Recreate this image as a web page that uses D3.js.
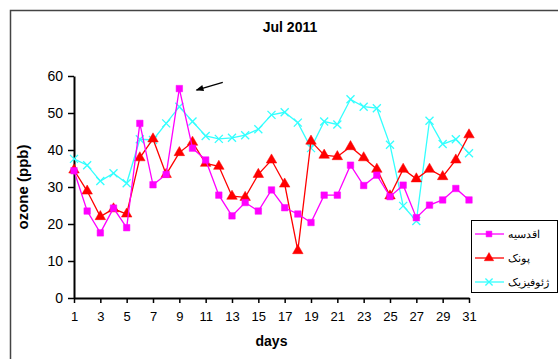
<!DOCTYPE html>
<html>
<head>
<meta charset="utf-8">
<script src="https://cdn.jsdelivr.net/npm/d3@7"></script>
<style>
  html, body { margin: 0; padding: 0; background: #fff; }
  svg { display: block; }
  text { font-family: "Liberation Sans", Arial, sans-serif; }
</style>
</head>
<body>
<svg id="chart" width="558" height="359"></svg>
<script>
// Daily ozone readings (ppb), July 2011, three monitoring stations
const days = d3.range(1, 32);
const dayTicks = [1, 3, 5, 7, 9, 11, 13, 15, 17, 19, 21, 23, 25, 27, 29, 31];
const ozoneTicks = [0, 10, 20, 30, 40, 50, 60];
const stationNames = ["اقدسیه", "پونک", "ژئوفیزیک"];

const aghdasieh = [34.4, 23.5, 17.6, 24.3, 19.0, 47.2, 30.6, 33.4, 56.6, 40.5,
                   37.3, 27.8, 22.2, 25.8, 23.5, 29.2, 24.4, 22.7, 20.4, 27.8,
                   27.8, 35.9, 30.4, 33.2, 27.4, 30.5, 21.7, 25.1, 26.5, 29.6, 26.5];
const punak =     [34.6, 28.9, 22.0, 24.1, 22.7, 37.9, 43.0, 33.4, 39.3, 42.1,
                   36.4, 35.6, 27.5, 27.2, 33.4, 37.3, 30.8, 12.8, 42.4, 38.6,
                   38.2, 40.9, 37.9, 34.8, 27.6, 34.8, 32.2, 34.8, 32.8, 37.3, 44.1];
const geophysics =[37.6, 35.9, 31.6, 33.7, 31.0, 42.9, 42.7, 47.2, 51.7, 47.7,
                   43.8, 43.0, 43.3, 44.0, 45.6, 49.5, 50.2, 47.4, 40.5, 47.7,
                   46.9, 53.7, 51.7, 51.3, 41.4, 24.9, 20.8, 47.9, 41.6, 42.9, 39.1];

const svg = d3.select("#chart");

const x = d3.scaleLinear().domain([1, 31]).range([74, 469]);
const y = d3.scaleLinear().domain([0, 60]).range([298, 76]);

// outer chart frame
svg.append("rect")
  .attr("x", 10.5).attr("y", 10.5)
  .attr("width", 600).attr("height", 400)
  .attr("fill", "#fff")
  .attr("stroke", "#444").attr("stroke-width", 1.5);

// title
svg.append("text")
  .attr("x", 290).attr("y", 32)
  .attr("text-anchor", "middle")
  .attr("font-size", 14).attr("font-weight", "bold")
  .text("Jul 2011");

// axes
const xAxis = d3.axisBottom(x).tickValues(dayTicks).tickSize(5).tickSizeOuter(0).tickPadding(9);
const gx = svg.append("g").attr("transform", `translate(0,${y(0)})`).call(xAxis);
gx.select(".domain").attr("stroke-width", 2);
gx.selectAll(".tick line").attr("stroke-width", 1.5);
gx.selectAll(".tick text").attr("font-size", 13).attr("font-family", "Liberation Sans, Arial, sans-serif");

const yAxis = d3.axisLeft(y).tickValues(ozoneTicks).tickSize(6).tickSizeOuter(0).tickPadding(5);
const gy = svg.append("g").attr("transform", `translate(${x(1)},0)`).call(yAxis);
gy.select(".domain").attr("stroke-width", 2);
gy.selectAll(".tick line").attr("stroke-width", 1.5);
gy.selectAll(".tick text").attr("font-size", 14).attr("font-family", "Liberation Sans, Arial, sans-serif");

// axis titles
svg.append("text")
  .attr("x", (x(1) + x(31)) / 2).attr("y", 346)
  .attr("text-anchor", "middle")
  .attr("font-size", 14).attr("font-weight", "bold")
  .text("days");

svg.append("text")
  .attr("transform", `translate(28,${(y(0) + y(60)) / 2}) rotate(-90)`)
  .attr("text-anchor", "middle")
  .attr("font-size", 15).attr("font-weight", "bold")
  .text("ozone (ppb)");

// x-shaped marker
const crossSymbol = {
  draw(ctx, size) {
    const r = Math.sqrt(size) / 2;
    ctx.moveTo(-r, -r); ctx.lineTo(r, r);
    ctx.moveTo(r, -r); ctx.lineTo(-r, r);
  }
};

const series = [
  { name: stationNames[0], values: aghdasieh, color: "#ff00ff", symbol: d3.symbolSquare, size: 42, filled: true },
  { name: stationNames[1], values: punak, color: "#ff0000", symbol: d3.symbolTriangle, size: 48, filled: true },
  { name: stationNames[2], values: geophysics, color: "#33ffff", symbol: crossSymbol, size: 64, filled: false }
];

const line = d3.line().x((d, i) => x(days[i])).y(d => y(d));

function drawMarker(sel, s) {
  sel.attr("d", d3.symbol().type(s.symbol).size(s.size)())
    .attr("fill", s.filled ? s.color : "none")
    .attr("stroke", s.color)
    .attr("stroke-width", s.filled ? 0.5 : 1.3);
}

// draw in reverse so the first station sits on top
series.slice().reverse().forEach(s => {
  const g = svg.append("g");
  g.append("path")
    .datum(s.values)
    .attr("d", line)
    .attr("fill", "none")
    .attr("stroke", s.color)
    .attr("stroke-width", 1.3);
  g.selectAll("path.pt")
    .data(s.values)
    .join("path")
    .attr("class", "pt")
    .attr("transform", (d, i) => `translate(${x(days[i])},${y(d)})`)
    .call(drawMarker, s);
});

// arrow pointing at the peak reading
const defs = svg.append("defs");
defs.append("marker")
  .attr("id", "arrowhead")
  .attr("viewBox", "0 0 10 10")
  .attr("refX", 9).attr("refY", 5)
  .attr("markerWidth", 7).attr("markerHeight", 6)
  .attr("orient", "auto")
  .append("path")
  .attr("d", "M0,1 L10,5 L0,9 Z")
  .attr("fill", "#000");

svg.append("line")
  .attr("x1", x(12.3)).attr("y1", y(58.3))
  .attr("x2", x(10.3)).attr("y2", y(56.2))
  .attr("stroke", "#000").attr("stroke-width", 1.3)
  .attr("marker-end", "url(#arrowhead)");

// legend
const legend = svg.append("g");
legend.append("rect")
  .attr("x", 471.5).attr("y", 220.5)
  .attr("width", 86).attr("height", 72)
  .attr("fill", "#fff").attr("stroke", "#000").attr("stroke-width", 1);

series.forEach((s, i) => {
  const ly = 234 + i * 24;
  const item = legend.append("g");
  item.append("line")
    .attr("x1", 475).attr("x2", 504)
    .attr("y1", ly).attr("y2", ly)
    .attr("stroke", s.color).attr("stroke-width", 1.3);
  item.append("path")
    .attr("transform", `translate(489,${ly})`)
    .call(drawMarker, { ...s, size: s.size * 0.8 });
  item.append("text")
    .attr("x", 508).attr("y", ly + 4)
    .attr("font-size", 11)
    .attr("font-family", "DejaVu Sans, sans-serif")
    .text(s.name);
});
</script>
</body>
</html>
